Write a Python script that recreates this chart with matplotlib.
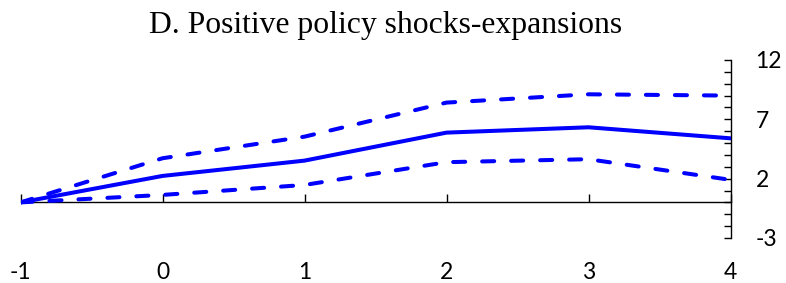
import matplotlib
matplotlib.use("Agg")
import matplotlib.pyplot as plt
from matplotlib.ticker import FixedLocator, MultipleLocator

horizons = [-1, 0, 1, 2, 3, 4]
estimate = [0.0, 2.23, 3.52, 5.88, 6.33, 5.40]
upper = [0.0, 3.72, 5.54, 8.41, 9.11, 9.00]
lower = [0.0, 0.63, 1.47, 3.39, 3.64, 1.90]
y_ticks = [-3, 2, 7, 12]
title = "D. Positive policy shocks-expansions"

W, H = 786, 283
fig = plt.figure(figsize=(W / 100, H / 100), dpi=100)
ax = fig.add_axes([20.5 / W, 1 - 238 / H, (730.5 - 20.5) / W, (238 - 60) / H])

blue = "#0000FF"
lw = 2.9
ax.plot(horizons, estimate, color=blue, lw=lw, solid_capstyle="round", solid_joinstyle="round", zorder=3)
for s in (upper, lower):
    ax.plot(horizons, s, color=blue, lw=lw, dashes=(3.0, 4.2), dash_capstyle="round", zorder=3)

ax.set_xlim(-1, 4)
ax.set_ylim(-3, 12)

for sp in ("top", "left"):
    ax.spines[sp].set_visible(False)
ax.spines["bottom"].set_position(("data", 0))
ax.spines["bottom"].set_linewidth(1.0)
ax.spines["right"].set_linewidth(1.0)

tick_font = dict(fontsize=16.5, family="Lato")

ax.xaxis.set_major_locator(FixedLocator(horizons))
ax.set_xticklabels([str(h) for h in horizons], **tick_font)
ax.tick_params(axis="x", direction="in", length=6, width=1.0, pad=43)

ax.yaxis.tick_right()
ax.yaxis.set_major_locator(FixedLocator(y_ticks))
ax.yaxis.set_minor_locator(MultipleLocator(1))
ax.set_yticklabels([str(t) for t in y_ticks], ha="left", **tick_font)
ax.tick_params(axis="y", which="both", direction="in", length=5, width=1.0)
ax.tick_params(axis="y", which="major", pad=18)

fig.text(386 / W, 1 - 32.5 / H, title, ha="center", va="baseline",
         fontsize=22.8, family="Liberation Serif")

fig.savefig("out.png", dpi=100)
